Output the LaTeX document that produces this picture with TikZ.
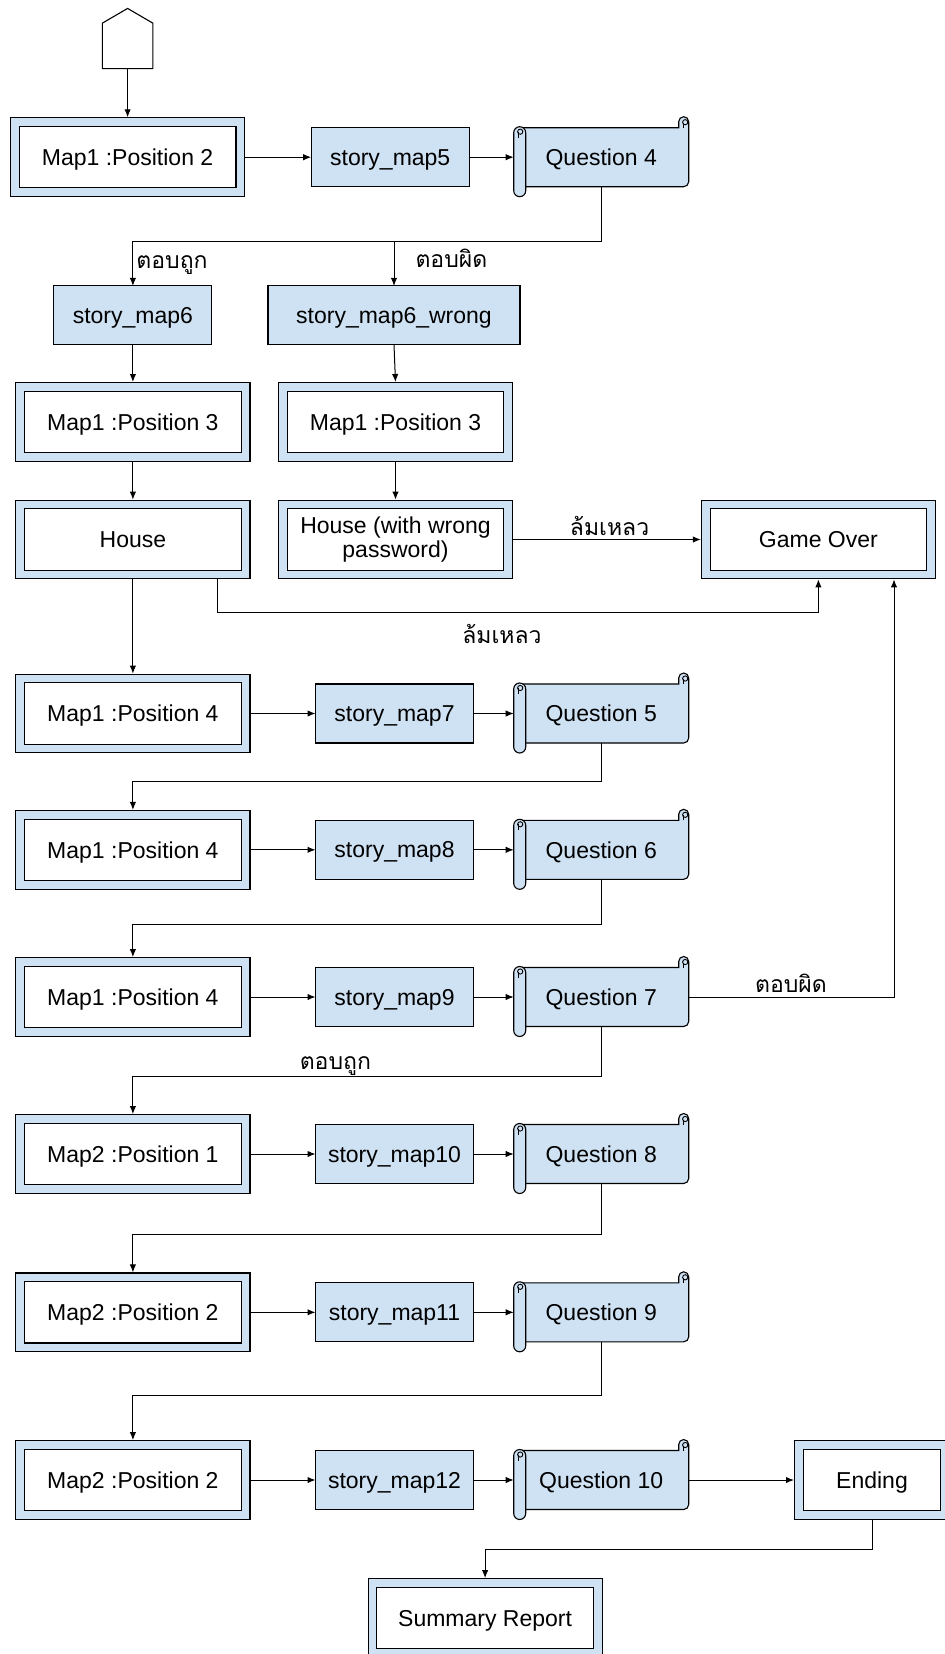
\documentclass[tikz,border=0pt]{standalone}
\usepackage{fontspec}
\setmainfont{Liberation Sans}
\newfontfamily\thaifont[Script=Thai]{Loma}
\usetikzlibrary{arrows.meta,calc,backgrounds}
\definecolor{boxblue}{HTML}{CFE2F3}
\tikzset{
  mapboxbase/.style={draw=black, line width=0.55pt, double=boxblue, double distance=3.8pt,
    fill=white, minimum width=112.7pt, minimum height=35pt, outer sep=2.45pt,
    inner sep=0pt, align=center},
  mapbox/.style={mapboxbase, text depth=0pt},
  storybox/.style={draw=black, line width=0.55pt, fill=boxblue, minimum width=79pt,
    minimum height=29.5pt, inner sep=0pt, outer sep=0pt, text depth=0pt},
  qnode/.style={minimum width=87.5pt, minimum height=29.5pt, inner sep=0pt, outer sep=0pt, text depth=0pt},
  scrollsty/.style={draw=black, line width=0.55pt, fill=boxblue},
  arr/.style={line width=0.5pt, -{Latex[length=4pt,width=3.2pt]}},
  lbl/.style={font=\thaifont\fontsize{11.5}{12}\selectfont, inner sep=0pt},
}
\newcommand\qscroll[1]{%
  \begin{pgfonlayer}{background}
    \filldraw[scrollsty] ($(#1.north west)+(6,0)$) -- ($(#1.north east)+(-10,0)$)
      [rounded corners=2.5pt] -- ($(#1.north east)+(-10,-11)$) -- ($(#1.north east)+(0,-11)$)
      -- (#1.south east) [sharp corners] -- ($(#1.south west)+(6,0)$) -- cycle;
    \draw[line width=0.45pt] ($(#1.north east)+(-5,0)$) -- ($(#1.north east)+(-5,-5)$);
    \draw[line width=0.45pt] ($(#1.north east)+(-3.5,-5.5)$) circle[radius=1.3pt];
    \filldraw[scrollsty, rounded corners=3pt] ($(#1.north west)+(0,-1)$) rectangle ($(#1.south west)+(12,10)$);
    \draw[line width=0.45pt] ($(#1.north west)+(5,10)$) -- ($(#1.north west)+(5,4)$);
    \draw[line width=0.45pt] ($(#1.north west)+(6.5,4)$) circle[radius=1.3pt];
  \end{pgfonlayer}}
\begin{document}
\begin{tikzpicture}[x=0.5pt, y=-0.5pt, font=\fontsize{11.5}{12}\selectfont]
\useasboundingbox (0,0) rectangle (945,1654);
\begin{pgfonlayer}{background}
\fill[white] (0,0) rectangle (945,1654);
\end{pgfonlayer}

% start marker
\node[minimum width=25.3pt, minimum height=30.1pt, inner sep=0pt, outer sep=0pt] (start) at (127.6,38.5) {};
\draw[line width=0.55pt, fill=white] (start.south west) -- ($(start.south west)+(0,-45.4)$)
  -- (start.north) -- ($(start.south east)+(0,-45.4)$) -- (start.south east) -- cycle;

% row 0
\node[mapbox] (m2) at (127.6,157.2) {Map1 :Position 2};
\node[storybox] (s5) at (390.2,157.2) {story\_map5};
\node[qnode] (q4) at (601.2,157.2) {Question 4};
\qscroll{q4}

% branches
\node[storybox] (s6) at (132.9,315.4) {story\_map6};
\node[storybox, minimum width=126pt] (s6w) at (394,315.4) {story\_map6\_wrong};
\node[mapbox] (m3) at (132.9,421.9) {Map1 :Position 3};
\node[mapbox] (m3w) at (395.5,421.9) {Map1 :Position 3};
\node[mapbox] (house) at (132.9,539.5) {House};
\node[mapboxbase] (housew) at (395.5,539.5) {House (with wrong\\password)};
\node[mapbox] (go) at (818.4,539.5) {Game Over};

% rows
\node[mapbox] (m4a) at (132.9,713.5) {Map1 :Position 4};
\node[storybox] (s7) at (394.5,713.5) {story\_map7};
\node[qnode] (q5) at (601.2,713.5) {Question 5};
\qscroll{q5}

\node[mapbox] (m4b) at (132.9,849.8) {Map1 :Position 4};
\node[storybox] (s8) at (394.5,849.8) {story\_map8};
\node[qnode] (q6) at (601.2,849.8) {Question 6};
\qscroll{q6}

\node[mapbox] (m4c) at (132.9,997) {Map1 :Position 4};
\node[storybox] (s9) at (394.5,997) {story\_map9};
\node[qnode] (q7) at (601.2,997) {Question 7};
\qscroll{q7}

\node[mapbox] (m21) at (132.9,1154) {Map2 :Position 1};
\node[storybox] (s10) at (394.5,1154) {story\_map10};
\node[qnode] (q8) at (601.2,1154) {Question 8};
\qscroll{q8}

\node[mapbox] (m22a) at (132.9,1312.3) {Map2 :Position 2};
\node[storybox] (s11) at (394.5,1312.3) {story\_map11};
\node[qnode] (q9) at (601.2,1312.3) {Question 9};
\qscroll{q9}

\node[mapbox] (m22b) at (132.9,1480) {Map2 :Position 2};
\node[storybox] (s12) at (394.5,1480) {story\_map12};
\node[qnode] (q10) at (601.2,1480) {Question 10};
\qscroll{q10}

\node[mapbox, minimum width=73.1pt] (ending) at (872,1480) {Ending};
\node[mapbox] (summary) at (485.1,1618) {Summary Report};

% labels
\node[lbl] (l1) at (172,265.5) {ตอบถูก};
\node[lbl] (l2) at (451.4,258.4) {ตอบผิด};
\node[lbl] (l3) at (609.6,526.3) {ล้มเหลว};
\node[lbl] (l4) at (502,634) {ล้มเหลว};
\node[lbl] (l5) at (791,983) {ตอบผิด};
\node[lbl] (l6) at (335.4,1066.5) {ตอบถูก};

% connectors
\draw[arr] (start.south) -- (m2.north);
\draw[arr] (m2.east) -- (s5.west);
\draw[arr] (s5.east) -- (q4.west);
\path (q4.south) ++(0,54.8) coordinate (q4turn);
\draw[arr] (q4.south) -- (q4turn) -| (s6.north);
\draw[arr] (q4turn -| s6w.north) -- (s6w.north);
\draw[arr] (s6.south) -- (m3.north);
\draw[arr] (s6w.south) -- (m3w.north);
\draw[arr] (m3.south) -- (house.north);
\draw[arr] (m3w.south) -- (housew.north);
\draw[arr] (housew.east) -- (go.west);
\draw[arr] ($(house.south east)+(-33,0)$) -- ++(0,32.7) -| (go.south);
\draw[arr] (house.south) -- (m4a.north);

\draw[arr] (m4a.east) -- (s7.west);
\draw[arr] (s7.east) -- (q5.west);
\draw[arr] (q5.south) -- ++(0,38.5) -| (m4b.north);
\draw[arr] (m4b.east) -- (s8.west);
\draw[arr] (s8.east) -- (q6.west);
\draw[arr] (q6.south) -- ++(0,44.7) -| (m4c.north);
\draw[arr] (m4c.east) -- (s9.west);
\draw[arr] (s9.east) -- (q7.west);
\draw[arr] (q7.east) -| ($(go.south east)+(-42,0)$);
\draw[arr] (q7.south) -- ++(0,49.5) -| (m21.north);
\draw[arr] (m21.east) -- (s10.west);
\draw[arr] (s10.east) -- (q8.west);
\draw[arr] (q8.south) -- ++(0,51) -| (m22a.north);
\draw[arr] (m22a.east) -- (s11.west);
\draw[arr] (s11.east) -- (q9.west);
\draw[arr] (q9.south) -- ++(0,53.5) -| (m22b.north);
\draw[arr] (m22b.east) -- (s12.west);
\draw[arr] (s12.east) -- (q10.west);
\draw[arr] (q10.east) -- (ending.west);
\draw[arr] (ending.south) -- ++(0,30) -| (summary.north);
\end{tikzpicture}
\end{document}
